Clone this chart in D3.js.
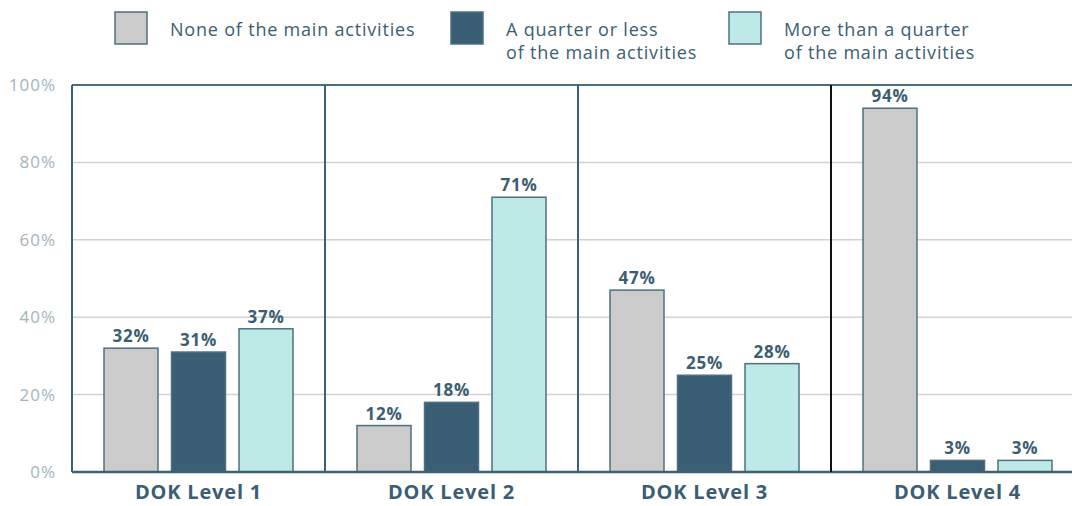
<!DOCTYPE html>
<html>
<head>
<meta charset="utf-8">
<script src="https://cdn.jsdelivr.net/npm/d3@7"></script>
<style>
  body { margin: 0; background: #fff; }
  svg { display: block; font-family: "Open Sans", Lato, sans-serif; }
</style>
</head>
<body>
<div id="viz"></div>
<script>
// data
var levels = ["DOK Level 1", "DOK Level 2", "DOK Level 3", "DOK Level 4"];
var seriesNames = ["none", "quarter", "more"];
var legendLabels = [["None of the main activities"], ["A quarter or less", "of the main activities"], ["More than a quarter", "of the main activities"]];
var noneVals = [32, 12, 47, 94];
var quarterVals = [31, 18, 25, 3];
var moreVals = [37, 71, 28, 3];
var yTicks = [0, 20, 40, 60, 80, 100];

var COLORS = ["#cbcbcb", "#3a5e73", "#bde9e7"];
var INK = "#3b5e72";
var W = 1072, H = 506;
var LEFT = 72, TOP = 85, BOTTOM = 472;

var svg = d3.select("#viz").append("svg")
  .attr("width", W).attr("height", H);

var x0 = d3.scaleBand().domain(levels).range([LEFT, LEFT + 253 * 4]).padding(0);
var x1 = d3.scaleBand().domain(seriesNames).range([32, 221]).paddingInner(0.2).paddingOuter(0);
var y = d3.scaleLinear().domain([0, 100]).range([BOTTOM, TOP]);

var rows = levels.map(function(l, i) {
  return { level: l, vals: [noneVals[i], quarterVals[i], moreVals[i]] };
});

// gridlines
svg.append("g").selectAll("line")
  .data(yTicks.filter(function(t) { return t > 0 && t < 100; }))
  .enter().append("line")
  .attr("x1", LEFT).attr("x2", W)
  .attr("y1", function(d) { return y(d); }).attr("y2", function(d) { return y(d); })
  .style("stroke", "#d2d2d2").style("stroke-width", 1.5);

// y tick labels
svg.append("g").selectAll("text")
  .data(yTicks).enter().append("text")
  .attr("x", 56).attr("y", function(d) { return y(d) + 6; })
  .attr("text-anchor", "end")
  .style("font-size", "17px").style("fill", "#a3b4bd")
  .style("letter-spacing", "1px")
  .text(function(d) { return d + "%"; });

// bars
var groups = svg.append("g").selectAll("g")
  .data(rows).enter().append("g")
  .attr("transform", function(d) { return "translate(" + x0(d.level) + ",0)"; });

groups.selectAll("rect")
  .data(function(d) { return d.vals; })
  .enter().append("rect")
  .attr("x", function(d, i) { return x1(seriesNames[i]); })
  .attr("y", function(d) { return y(d); })
  .attr("width", x1.bandwidth())
  .attr("height", function(d) { return BOTTOM - y(d); })
  .style("fill", function(d, i) { return COLORS[i]; })
  .style("stroke", "#4f7082").style("stroke-width", 1.5);

groups.selectAll("text")
  .data(function(d) { return d.vals; })
  .enter().append("text")
  .attr("x", function(d, i) { return x1(seriesNames[i]) + x1.bandwidth() / 2; })
  .attr("y", function(d) { return y(d) - 6; })
  .attr("text-anchor", "middle")
  .style("font-size", "17px").style("font-weight", "bold").style("fill", INK)
  .style("letter-spacing", "0.8px")
  .text(function(d) { return d + "%"; });

// frame: top, bottom, left and dividers
svg.append("line").attr("x1", LEFT).attr("x2", W).attr("y1", TOP).attr("y2", TOP)
  .style("stroke", "#4a6d80").style("stroke-width", 2);
svg.append("line").attr("x1", LEFT).attr("x2", W).attr("y1", BOTTOM).attr("y2", BOTTOM)
  .style("stroke", "#3d6075").style("stroke-width", 2.5);
svg.append("g").selectAll("line")
  .data(levels).enter().append("line")
  .attr("x1", function(d) { return x0(d); }).attr("x2", function(d) { return x0(d); })
  .attr("y1", TOP).attr("y2", BOTTOM)
  .style("stroke", function(d, i) { return i == 3 ? "#111" : "#3d6075"; })
  .style("stroke-width", 2);

// category labels
svg.append("g").selectAll("text")
  .data(levels).enter().append("text")
  .attr("x", function(d) { return x0(d) + x0.bandwidth() / 2; })
  .attr("y", 499)
  .attr("text-anchor", "middle")
  .style("font-size", "20px").style("font-weight", "bold").style("fill", INK)
  .style("letter-spacing", "0.8px")
  .text(function(d) { return d; });

// legend
var legendX = [115, 451, 729];
var legend = svg.append("g").selectAll("g")
  .data(legendLabels).enter().append("g")
  .attr("transform", function(d, i) { return "translate(" + legendX[i] + ",12)"; });
legend.append("rect")
  .attr("width", 32).attr("height", 32)
  .style("fill", function(d, i) { return COLORS[i]; })
  .style("stroke", "#4f7082").style("stroke-width", 1.5);
legend.append("text")
  .attr("x", 55).attr("y", 24)
  .style("font-size", "18px").style("fill", INK)
  .style("letter-spacing", "0.8px")
  .selectAll("tspan")
  .data(function(d) { return d; })
  .enter().append("tspan")
  .attr("x", 55)
  .attr("dy", function(d, i) { return i == 0 ? 0 : 23; })
  .text(function(d) { return d; });
</script>
</body>
</html>
